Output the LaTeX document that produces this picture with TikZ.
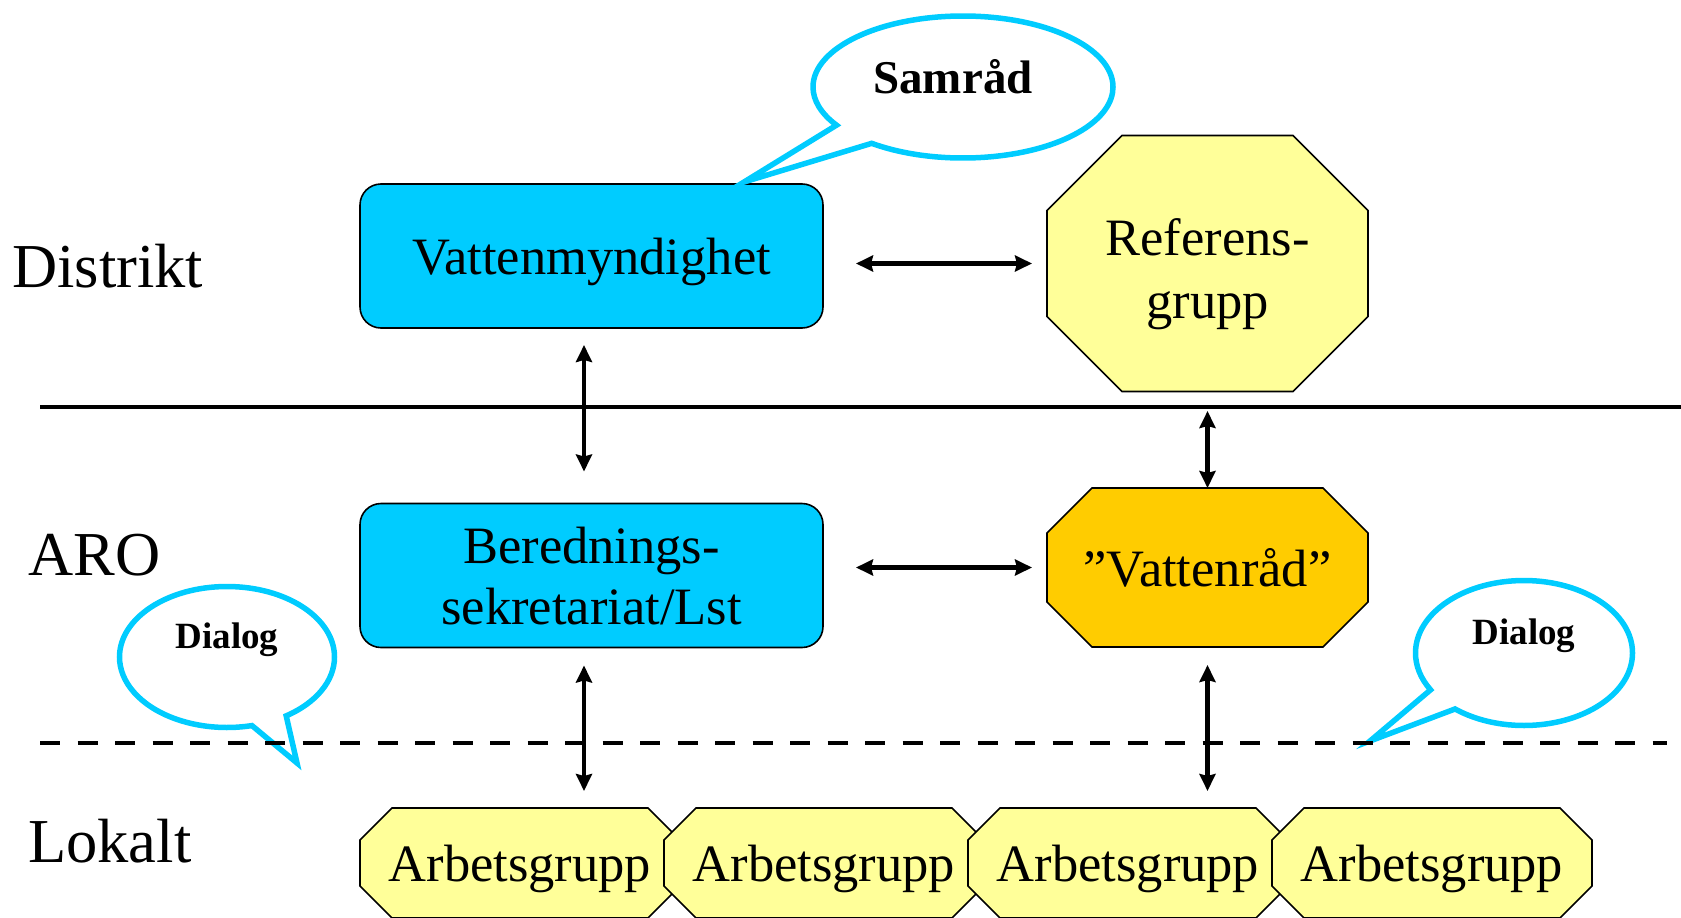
\documentclass[tikz,border=0pt]{standalone}
\usepackage{fontspec}
\setmainfont{Liberation Serif}
\usetikzlibrary{
    arrows.meta,
    positioning,
    shapes.callouts,
    backgrounds
}
\definecolor{vmblue}{RGB}{0, 204, 255}
\definecolor{refyellow}{RGB}{255, 255, 153}
\definecolor{radgold}{RGB}{255, 204, 0}

% octagon behind a named node: node, cut, fill
\newcommand{\octbox}[3]{%
    \draw[line width=1.6pt, fill=#3]
        ([xshift=#2pt]#1.north west) -- ([xshift=-#2pt]#1.north east)
        -- ([yshift=-#2pt]#1.north east) -- ([yshift=#2pt]#1.south east)
        -- ([xshift=-#2pt]#1.south east) -- ([xshift=#2pt]#1.south west)
        -- ([yshift=#2pt]#1.south west) -- ([yshift=-#2pt]#1.north west) -- cycle;}

\begin{document}
\begin{tikzpicture}[
        x=1pt, y=-1pt,
        box/.style={draw, line width=1.6pt, rounded corners=21pt, fill=vmblue, minimum width=463pt, minimum height=144pt, align=center, inner sep=0pt, outer sep=0pt, text depth=0pt, font=\fontsize{52.5}{61}\selectfont},
        octa/.style={inner sep=0pt, outer sep=0pt, align=center, text depth=0pt, font=\fontsize{52.5}{61}\selectfont},
        level/.style={anchor=base west, inner sep=0pt, font=\fontsize{62.5}{70}\selectfont},
        bubble/.style={ellipse callout, draw=vmblue, line width=5.5pt, fill=white, callout pointer arc=20, inner sep=0pt, text height=25pt, text depth=42pt, font=\bfseries\fontsize{37}{40}\selectfont},
        biarrow/.style={{Stealth[length=17pt,width=16pt,inset=2pt]}-{Stealth[length=17pt,width=16pt,inset=2pt]}, line width=4.5pt}
    ]
        \useasboundingbox (0,0) rectangle (1681,918);

        % Levels
        \node[level] (distrikt) at (12,287) {Distrikt};
        \node[level] (aro) at (28,575) {ARO};
        \node[level] (lokalt) at (28,862) {Lokalt};

        % Distrikt
        \node[box] (vm) at (591.5,256) {Vattenmyndighet};
        \node[octa, minimum width=321pt, minimum height=256pt, text height=109pt, font=\fontsize{52.5}{63}\selectfont] (ref) at (1207.5,263.5) {Referens-\\grupp};

        % ARO
        \node[box] (bs) at (591.5,575.5) {Berednings-\\sekretariat/Lst};
        \node[octa, minimum width=321pt, minimum height=159pt] (vr) at (1207.5,567.5) {”Vattenråd”};

        % Lokalt
        \foreach \i in {1,...,4}
            \node[octa, minimum width=320pt, minimum height=110pt] (a\i) at (216+304*\i,863) {Arbetsgrupp};

        \begin{scope}[on background layer]
            \octbox{ref}{75}{refyellow}
            \octbox{vr}{45}{radgold}
            \foreach \i in {1,...,4} {\octbox{a\i}{32}{refyellow}}
        \end{scope}

        % Callouts
        \coordinate (samtip) at (744,182);
        \coordinate (dltip) at (297,763);
        \coordinate (drtip) at (1370,741);
        \node[bubble, minimum width=300pt, minimum height=142pt, text height=32pt, text depth=20pt, font=\bfseries\fontsize{47}{50}\selectfont, callout absolute pointer={(samtip)}] (samrad) at (963,87) {Samråd\hspace*{20pt}};
        \node[bubble, minimum width=215pt, minimum height=141pt, callout absolute pointer={(dltip)}] (dialogl) at (227,657) {Dialog};
        \node[bubble, minimum width=217pt, minimum height=145pt, callout absolute pointer={(drtip)}] (dialogr) at (1524,653) {Dialog};

        % Level borders
        \coordinate (dl) at (40,407);
        \coordinate (dr) at (1681,407);
        \coordinate (al) at (40,743);
        \coordinate (ar) at (1667,743);
        \draw[line width=4pt] (dl) -- (dr);
        \draw[line width=4pt, dash pattern=on 20pt off 17.5pt] (al) -- (ar);

        % Arrows
        \draw[biarrow, shorten <=33pt, shorten >=15pt] (vm.east |- ref.west) -- (ref.west);
        \draw[biarrow, shorten <=33pt, shorten >=15pt] (bs.east |- vr.west) -- (vr.west);
        \draw[biarrow, shorten <=17pt, shorten >=32pt] ([xshift=-7.5pt]vm.south) -- ([xshift=-7.5pt]bs.north);
        \draw[biarrow, shorten <=18pt, shorten >=17pt] ([xshift=-7.5pt]bs.south) -- ([xshift=-7.5pt]bs.south |- a1.north);
        \draw[biarrow, shorten <=4pt] (vr.north |- dl) -- (vr.north);
        \draw[biarrow, shorten <=18pt, shorten >=17pt] (vr.south) -- (vr.south |- a3.north);
    \end{tikzpicture}
\end{document}
